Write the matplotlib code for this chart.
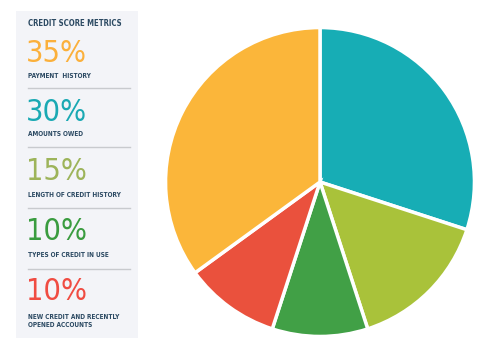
import matplotlib.pyplot as plt
from matplotlib.patches import Rectangle
from matplotlib.lines import Line2D

# data
labels = ["PAYMENT  HISTORY", "AMOUNTS OWED", "LENGTH OF CREDIT HISTORY",
          "TYPES OF CREDIT IN USE", "NEW CREDIT AND RECENTLY\nOPENED ACCOUNTS"]
shares = [35, 30, 15, 10, 10]
wedge_colors = ["#fbb63a", "#17adb5", "#a9c23a", "#41a046", "#ea513d"]
text_colors = ["#fbb03b", "#1aa9b3", "#9db45a", "#3a9c3f", "#f04c42"]

W, H = 500, 358
fig = plt.figure(figsize=(W / 100, H / 100), dpi=100)
fig.patch.set_facecolor("white")

def fx(x):
    return x / W

def fy(y):
    return 1 - y / H

fam = ["DejaVu Sans"]
navy = "#2c4a63"

# left panel
fig.patches.append(Rectangle((fx(16), fy(338)), fx(138) - fx(16), fy(11) - fy(338),
                             transform=fig.transFigure, facecolor="#f3f4f8",
                             edgecolor="none", zorder=0))
fig.text(fx(28), fy(24), "CREDIT SCORE METRICS", color=navy, fontsize=5.6,
         fontweight="bold", family=fam, fontstretch="condensed",
         va="center", ha="left")

big_y = [53, 113, 171, 232, 292]
lab_y = [76, 134, 195, 255, 321]
line_y = [88, 147, 208, 269]
for i in range(len(shares)):
    fig.text(fx(26), fy(big_y[i]), f"{shares[i]}%", color=text_colors[i],
             fontsize=22, family=fam, fontstretch="condensed",
             va="center", ha="left")
    fig.text(fx(28), fy(lab_y[i]), labels[i], color=navy, fontsize=4.7,
             fontweight="bold", family=fam, fontstretch="condensed",
             va="center", ha="left", linespacing=1.55)
for y in line_y:
    fig.lines.append(Line2D([fx(28), fx(130)], [fy(y), fy(y)],
                            transform=fig.transFigure, color="#c8cace", lw=1))

# pie, clockwise from 12 o'clock: teal, lime, green, red, yellow
order = [1, 2, 3, 4, 0]
ax = fig.add_axes([fx(164), fy(338), fx(476) - fx(164), fy(26) - fy(338)])
ax.pie([shares[i] for i in order], colors=[wedge_colors[i] for i in order],
       startangle=90, counterclock=False,
       wedgeprops=dict(edgecolor="white", linewidth=2.5))
ax.set_xlim(-1.01, 1.01)
ax.set_ylim(-1.01, 1.01)
ax.set_aspect("equal")
ax.axis("off")

fig.savefig("out.png", dpi=100)
